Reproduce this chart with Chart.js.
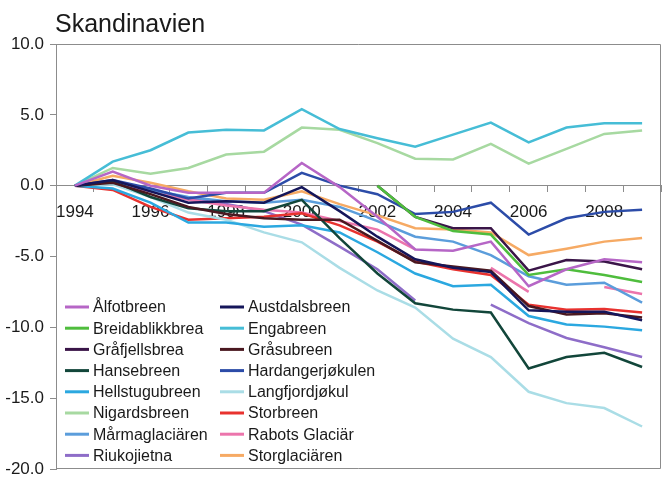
<!DOCTYPE html>
<html>
<head>
<meta charset="utf-8">
<script src="https://cdn.jsdelivr.net/npm/chart.js@4.4.0/dist/chart.umd.min.js"></script>
<style>
  html, body { margin: 0; padding: 0; background: #fff; }
  #wrap { width: 662px; height: 477px; }
</style>
</head>
<body>
<div id="wrap"><canvas id="chart"></canvas></div>
<script>
// Cumulative mass balance, 1994-2009
const years = ["1994", "1995", "1996", "1997", "1998", "1999", "2000", "2001",
               "2002", "2003", "2004", "2005", "2006", "2007", "2008", "2009"];

const alfotbreen      = [0, 1.0, 0.0, -0.5, -0.5, -0.5, 1.6, -0.1, -2.2, -4.5, -4.6, -3.95, -7.1, -5.9, -5.2, -5.4];
const austdalsbreen   = [0, 0.4, -0.4, -1.2, -1.1, -1.2, -0.1, -1.8, -3.6, -5.2, -5.8, -6.1, -8.8, -8.9, -8.9, -9.5];
const breidablikkbrea = [null, null, null, null, null, null, null, null, 0, -2.2, -3.2, -3.45, -6.3, -5.9, -6.3, -6.8];
const engabreen       = [0, 1.7, 2.5, 3.75, 3.95, 3.9, 5.4, 4.0, 3.35, 2.75, 3.6, 4.45, 3.05, 4.1, 4.4, 4.4];
const grafjellsbrea   = [null, null, null, null, null, null, null, null, 0, -2.2, -3.0, -3.0, -6.0, -5.25, -5.35, -5.9];
const grasubreen      = [0, 0.2, -0.6, -1.5, -2.0, -2.3, -2.4, -2.4, -3.9, -5.4, -5.7, -6.0, -8.5, -9.1, -9.0, -9.3];
const hansebreen      = [0, 0.3, -0.8, -1.6, -1.8, -1.8, -1.0, -3.7, -6.2, -8.3, -8.75, -8.95, -12.9, -12.1, -11.8, -12.8];
const hardangerjokulen = [0, 0.4, -0.2, -0.9, -0.5, -0.5, 0.9, 0.0, -0.6, -2.0, -1.85, -1.2, -3.45, -2.3, -1.85, -1.7];
const hellstugubreen  = [0, -0.2, -1.2, -2.6, -2.6, -2.9, -2.8, -3.3, -4.7, -6.2, -7.1, -7.0, -9.2, -9.8, -9.95, -10.2];
const langfjordjokul  = [0, 0.1, -0.8, -1.9, -2.4, -3.3, -4.0, -5.8, -7.4, -8.6, -10.8, -12.1, -14.55, -15.35, -15.7, -17.0];
const nigardsbreen    = [0, 1.25, 0.85, 1.25, 2.2, 2.4, 4.1, 3.95, 3.0, 1.9, 1.85, 2.95, 1.55, 2.6, 3.65, 3.9];
const storbreen       = [0, -0.3, -1.5, -2.4, -2.3, -2.2, -1.95, -2.8, -3.95, -5.35, -5.9, -6.3, -8.4, -8.75, -8.7, -8.95];
const marmaglaciaren  = [0, 0.3, -0.3, -0.8, -1.1, -1.2, -1.0, -1.5, -2.5, -3.6, -3.95, -4.9, -6.4, -7.0, -6.85, -8.25];
const rabotsGlaciar   = [0, 0.2, -0.4, -1.0, -1.4, -1.7, -1.9, -2.5, -3.1, -4.5, null, -5.8, -7.5, null, -7.15, -7.65];
const riukojietna     = [0, 0.3, -0.3, -0.9, -1.3, -1.8, -2.75, -4.3, -5.9, -8.1, null, -8.4, -9.7, -10.75, -11.4, -12.1];
const storglaciaren   = [0, 0.7, 0.2, -0.4, -0.9, -1.0, -0.4, -1.3, -2.1, -3.0, -3.1, -3.3, -4.9, -4.45, -3.95, -3.7];

const yTicks = [-20, -15, -10, -5, 0, 5, 10];

const series = [
    { label: "Ålfotbreen", data: alfotbreen, color: "#b666c6" },
    { label: "Austdalsbreen", data: austdalsbreen, color: "#15165a" },
    { label: "Breidablikkbrea", data: breidablikkbrea, color: "#4fbd3d" },
    { label: "Engabreen", data: engabreen, color: "#46bdd6" },
    { label: "Gråfjellsbrea", data: grafjellsbrea, color: "#3a1548" },
    { label: "Gråsubreen", data: grasubreen, color: "#4a1820" },
    { label: "Hansebreen", data: hansebreen, color: "#12463a" },
    { label: "Hardangerjøkulen", data: hardangerjokulen, color: "#2c4ca8" },
    { label: "Hellstugubreen", data: hellstugubreen, color: "#2ba8e0" },
    { label: "Langfjordjøkul", data: langfjordjokul, color: "#aadde6" },
    { label: "Nigardsbreen", data: nigardsbreen, color: "#a7d9a1" },
    { label: "Storbreen", data: storbreen, color: "#e8322f" },
    { label: "Mårmaglaciären", data: marmaglaciaren, color: "#5b9ddb" },
    { label: "Rabots Glaciär", data: rabotsGlaciar, color: "#ec75ac" },
    { label: "Riukojietna", data: riukojietna, color: "#8e6dc8" },
    { label: "Storglaciären", data: storglaciaren, color: "#f6aa64" },
];

const FONT = "'Liberation Sans', Arial, sans-serif";

// Title, frame and the two-column legend inside the plot
const decorations = {
    id: "decorations",
    beforeDatasetsDraw(chart) {
        const { ctx, chartArea } = chart;
        ctx.save();
        ctx.strokeStyle = "#8c8c8c";
        ctx.lineWidth = 1;
        ctx.beginPath();
        ctx.moveTo(chartArea.left, chartArea.top + 0.5);
        ctx.lineTo(chartArea.right - 0.5, chartArea.top + 0.5);
        ctx.lineTo(chartArea.right - 0.5, chartArea.bottom - 0.5);
        ctx.lineTo(chartArea.left, chartArea.bottom - 0.5);
        ctx.stroke();
        ctx.restore();
    },
    afterDraw(chart) {
        const { ctx, chartArea } = chart;
        ctx.save();
        ctx.fillStyle = "#1a1a1a";
        ctx.font = "25px " + FONT;
        ctx.textBaseline = "alphabetic";
        ctx.fillText("Skandinavien", chartArea.left - 1, 32);

        ctx.font = "16px " + FONT;
        ctx.textBaseline = "middle";
        chart.data.datasets.forEach((ds, i) => {
            const col = i % 2;
            const row = Math.floor(i / 2);
            const y = 307 + row * 21.2;
            const x0 = col === 0 ? 65 : 220;
            ctx.strokeStyle = ds.borderColor;
            ctx.lineWidth = 3;
            ctx.beginPath();
            ctx.moveTo(x0, y);
            ctx.lineTo(x0 + 24, y);
            ctx.stroke();
            ctx.fillStyle = "#1a1a1a";
            ctx.fillText(ds.label, x0 + 28, y + 1);
        });
        ctx.restore();
    }
};

const ctx = document.getElementById("chart").getContext("2d");
new Chart(ctx, {
    type: "line",
    data: {
        labels: years,
        datasets: series.map(s => ({
            label: s.label,
            data: s.data,
            borderColor: s.color,
            backgroundColor: s.color,
            borderWidth: 2.5,
            pointRadius: 0,
            tension: 0,
            spanGaps: false,
        })),
    },
    options: {
        responsive: true,
        maintainAspectRatio: false,
        animation: false,
        layout: { padding: { top: 44, right: 1, bottom: 8, left: 0 } },
        plugins: {
            legend: { display: false },
            title: { display: false },
            tooltip: { enabled: false },
        },
        scales: {
            x: {
                type: "category",
                position: { y: 0 },
                offset: true,
                afterFit: (scale) => {
                    scale.height = 0;
                    scale.paddingLeft = 0;
                    scale.paddingRight = 0;
                },
                grid: { drawOnChartArea: false, offset: true, tickLength: 6, color: "#8c8c8c" },
                border: { color: "#8c8c8c" },
                ticks: {
                    autoSkip: false,
                    maxRotation: 0,
                    padding: 10,
                    color: "#1a1a1a",
                    font: { family: FONT, size: 17 },
                    callback: (v, i) => (i % 2 === 0 ? years[i] : ""),
                },
            },
            y: {
                min: -20,
                max: 10,
                afterFit: (scale) => {
                    scale.width = 56;
                    scale.paddingTop = 0;
                    scale.paddingBottom = 0;
                },
                afterBuildTicks: (scale) => { scale.ticks = yTicks.map(v => ({ value: v })); },
                grid: { drawOnChartArea: false, tickLength: 6, color: "#8c8c8c" },
                border: { color: "#8c8c8c" },
                ticks: {
                    padding: 6,
                    color: "#1a1a1a",
                    font: { family: FONT, size: 17 },
                    callback: (v) => v.toFixed(1),
                },
            },
        },
    },
    plugins: [decorations],
});
</script>
</body>
</html>
